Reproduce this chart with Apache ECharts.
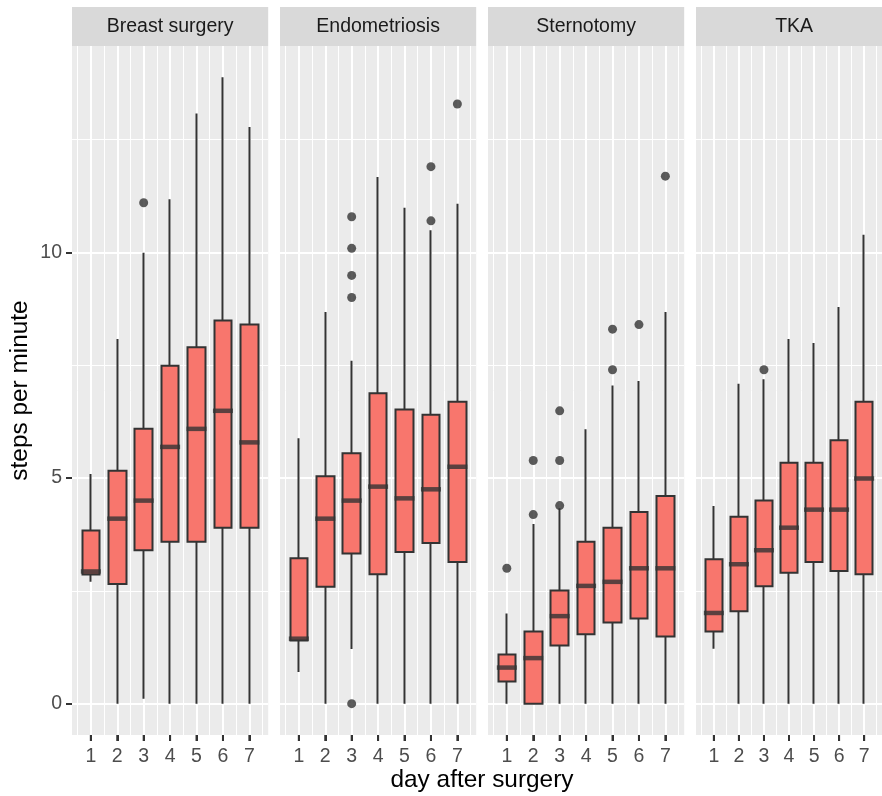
<!DOCTYPE html>
<html>
<head>
<meta charset="utf-8">
<script src="https://cdn.jsdelivr.net/npm/echarts@6/dist/echarts.min.js"></script>
<style>
html,body{margin:0;padding:0;background:#fff;}
#chart{width:882px;height:796px;}
</style>
</head>
<body>
<div id="chart"></div>
<script>
// ---- data ----
const days = [1, 2, 3, 4, 5, 6, 7];
const facets = ['Breast surgery', 'Endometriosis', 'Sternotomy', 'TKA'];
const yTicks = [0, 5, 10];
const yMinorTicks = [2.5, 7.5, 12.5];
const xTitle = 'day after surgery';
const yTitle = 'steps per minute';

const breastLow  = [2.70, 0, 0.11, 0, 0, 0, 0];
const breastQ1   = [2.86, 2.65, 3.40, 3.59, 3.59, 3.90, 3.90];
const breastMed  = [2.93, 4.10, 4.50, 5.69, 6.09, 6.49, 5.79];
const breastQ3   = [3.84, 5.16, 6.09, 7.49, 7.90, 8.49, 8.40];
const breastHigh = [5.09, 8.08, 9.99, 11.18, 13.08, 13.88, 12.78];
const breastOut  = [[3, 11.10]];

const endoLow  = [0.70, 0, 1.21, 0, 0, 0, 0];
const endoQ1   = [1.40, 2.59, 3.33, 2.87, 3.36, 3.56, 3.14];
const endoMed  = [1.44, 4.10, 4.50, 4.81, 4.55, 4.75, 5.25];
const endoQ3   = [3.22, 5.04, 5.55, 6.88, 6.52, 6.40, 6.69];
const endoHigh = [5.88, 8.68, 7.60, 11.67, 10.99, 10.49, 11.08];
const endoOut  = [[3, 10.79], [3, 10.09], [3, 9.49], [3, 9.00], [3, 0], [6, 11.90], [6, 10.70], [7, 13.29]];

const sternLow  = [0, 0, 0, 0, 0, 0, 0];
const sternQ1   = [0.49, 0, 1.29, 1.54, 1.80, 1.89, 1.49];
const sternMed  = [0.80, 1.01, 1.94, 2.61, 2.70, 3.00, 3.00];
const sternQ3   = [1.09, 1.60, 2.51, 3.59, 3.90, 4.25, 4.60];
const sternHigh = [2.00, 3.98, 4.33, 6.08, 7.05, 7.15, 8.68];
const sternOut  = [[1, 3.00], [2, 5.39], [2, 4.19], [3, 6.49], [3, 5.39], [3, 4.39], [5, 8.30], [5, 7.40], [6, 8.40], [7, 11.69]];

const tkaLow  = [1.22, 0, 0, 0, 0, 0, 0];
const tkaQ1   = [1.60, 2.05, 2.60, 2.90, 3.14, 2.94, 2.87];
const tkaMed  = [2.01, 3.09, 3.40, 3.90, 4.30, 4.30, 4.99];
const tkaQ3   = [3.20, 4.14, 4.50, 5.34, 5.34, 5.84, 6.69];
const tkaHigh = [4.38, 7.09, 7.19, 8.08, 7.99, 8.79, 10.39];
const tkaOut  = [[3, 7.40]];

const panels = [
  {low: breastLow, q1: breastQ1, med: breastMed, q3: breastQ3, high: breastHigh, out: breastOut},
  {low: endoLow, q1: endoQ1, med: endoMed, q3: endoQ3, high: endoHigh, out: endoOut},
  {low: sternLow, q1: sternQ1, med: sternMed, q3: sternQ3, high: sternHigh, out: sternOut},
  {low: tkaLow, q1: tkaQ1, med: tkaMed, q3: tkaQ3, high: tkaHigh, out: tkaOut}
];

// ---- layout ----
const FONT = '"Liberation Sans", Arial, sans-serif';
const panelLefts = [72, 280, 488, 696];
const panelW = 196.2;
const panelTop = 46;
const panelH = 689;
const xMin = 0.2875, xMax = 7.7125;
const yMin = -0.694, yMax = 14.574;
const xMinorTicks = days.map(d => d - 0.5).concat([days[days.length - 1] + 0.5]);

const grids = [], xAxes = [], yAxes = [], series = [], graphics = [];

panels.forEach((p, i) => {
  grids.push({left: panelLefts[i], top: panelTop, width: panelW, height: panelH,
    show: true, backgroundColor: '#EBEBEB', borderWidth: 0});
  // major x (index 2i)
  xAxes.push({type: 'value', gridIndex: i, min: xMin, max: xMax, position: 'bottom',
    axisLine: {show: false, onZero: false},
    axisTick: {show: true, customValues: days, length: 6, lineStyle: {color: '#333333', width: 2}},
    axisLabel: {show: true, customValues: days, margin: 12, fontSize: 19.5, color: '#4D4D4D', fontFamily: FONT},
    splitLine: {show: true, lineStyle: {color: '#FFFFFF', width: 2}}});
  // minor x (index 2i+1)
  xAxes.push({type: 'value', gridIndex: i, min: xMin, max: xMax, position: 'top',
    axisLine: {show: false, onZero: false}, axisLabel: {show: false},
    axisTick: {show: false, customValues: xMinorTicks},
    splitLine: {show: true, lineStyle: {color: '#FFFFFF', width: 1}}});
  // major y (index 2i)
  yAxes.push({type: 'value', gridIndex: i, min: yMin, max: yMax, position: 'left',
    axisLine: {show: false, onZero: false},
    axisTick: {show: i === 0, customValues: yTicks, length: 6, lineStyle: {color: '#333333', width: 2}},
    axisLabel: {show: i === 0, customValues: yTicks, margin: 10, fontSize: 19.5, color: '#4D4D4D', fontFamily: FONT},
    splitLine: {show: true, lineStyle: {color: '#FFFFFF', width: 2}}});
  // minor y (index 2i+1)
  yAxes.push({type: 'value', gridIndex: i, min: yMin, max: yMax, position: 'right',
    axisLine: {show: false, onZero: false}, axisLabel: {show: false},
    axisTick: {show: false, customValues: yMinorTicks},
    splitLine: {show: true, lineStyle: {color: '#FFFFFF', width: 1}}});

  const xi = 2 * i, yi = 2 * i;
  series.push({
    type: 'candlestick', xAxisIndex: xi, yAxisIndex: yi, barWidth: 18,
    itemStyle: {color: '#F8766D', color0: '#F8766D', borderColor: '#333333', borderColor0: '#333333',
      borderColorDoji: '#333333', borderWidth: 2},
    data: days.map((d, k) => [d, p.q1[k], p.q3[k], p.low[k], p.high[k]]),
    z: 2
  });
  series.push({
    type: 'scatter', xAxisIndex: xi, yAxisIndex: yi, symbol: 'rect', symbolSize: [20, 4.5],
    itemStyle: {color: '#333333'},
    data: days.map((d, k) => [d, p.med[k]]),
    z: 3
  });
  series.push({
    type: 'scatter', xAxisIndex: xi, yAxisIndex: yi, symbol: 'circle', symbolSize: 9,
    itemStyle: {color: '#333333'},
    data: p.out,
    z: 4
  });

  graphics.push({type: 'rect', id: 'strip' + i, shape: {x: panelLefts[i], y: 7, width: panelW, height: 39},
    style: {fill: '#D9D9D9'}, z: 0});
  graphics.push({type: 'text', id: 'stripText' + i, x: panelLefts[i] + panelW / 2, y: 27,
    style: {text: facets[i], fontSize: 19.5, fontFamily: FONT, fill: '#1A1A1A', align: 'center', verticalAlign: 'middle'}});
});

graphics.push({type: 'text', id: 'xTitle', x: 482, y: 780,
  style: {text: xTitle, fontSize: 24.4, fontFamily: FONT, fill: '#000000', align: 'center', verticalAlign: 'middle'}});
graphics.push({type: 'text', id: 'yTitle', x: 20, y: 390.5, rotation: Math.PI / 2,
  style: {text: yTitle, fontSize: 24.4, fontFamily: FONT, fill: '#000000', align: 'center', verticalAlign: 'middle'}});

const chart = echarts.init(document.getElementById('chart'), null, {renderer: 'canvas'});
chart.setOption({
  animation: false,
  backgroundColor: '#FFFFFF',
  grid: grids,
  xAxis: xAxes,
  yAxis: yAxes,
  series: series,
  graphic: graphics
});

// x-axis tick marks below each panel, positioned through the axis scales
const tickMarks = [];
panels.forEach((p, i) => {
  days.forEach(d => {
    const pt = chart.convertToPixel({xAxisIndex: 2 * i, yAxisIndex: 2 * i}, [d, yMin]);
    if (pt) {
      tickMarks.push({type: 'line', id: 'xt' + i + '_' + d, z: 100,
        shape: {x1: pt[0], y1: pt[1], x2: pt[0], y2: pt[1] + 6},
        style: {stroke: '#333333', lineWidth: 2}});
    }
  });
});
chart.setOption({graphic: graphics.concat(tickMarks)});
</script>
</body>
</html>
